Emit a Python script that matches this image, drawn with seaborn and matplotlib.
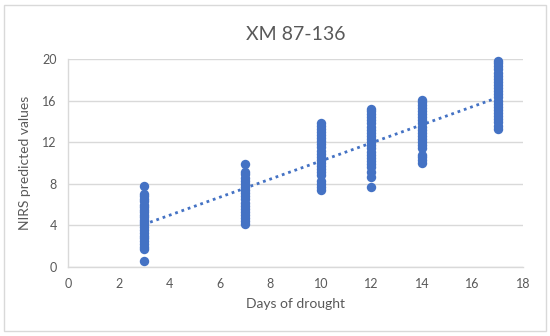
import numpy as np
import pandas as pd
import matplotlib
matplotlib.use('Agg')
import matplotlib.pyplot as plt
import seaborn as sns
from matplotlib.patches import Rectangle

# --- Data ---
day3 = [0.6, 1.7, 1.9, 2.2, 2.5, 2.8, 3.0, 3.3, 3.6, 3.8, 4.1, 4.3, 4.5, 4.8,
        5.0, 5.3, 5.5, 5.8, 6.0, 6.3, 6.5, 6.8, 7.0, 7.8]
day7 = [4.1, 4.4, 4.7, 5.0, 5.3, 5.6, 5.9, 6.2, 6.5, 6.8, 7.1, 7.4, 7.7,
        8.0, 8.3, 8.6, 8.9, 9.1, 9.9]
day10 = [7.4, 7.7, 8.0, 8.3, 8.8, 9.1, 9.4, 9.7, 10.0, 10.3, 10.6, 10.9,
         11.2, 11.5, 11.8, 12.1, 12.4, 12.7, 13.0, 13.3, 13.6, 13.8]
day12 = [7.7, 8.7, 9.1, 9.6, 9.9, 10.2, 10.5, 10.8, 11.1, 11.4, 11.7, 12.0,
         12.3, 12.6, 12.9, 13.2, 13.5, 13.8, 14.1, 14.4, 14.7, 15.0, 15.2]
day14 = [10.0, 10.3, 10.6, 10.8, 11.4, 11.7, 12.0, 12.3, 12.6, 12.9, 13.2,
         13.5, 13.8, 14.1, 14.4, 14.7, 15.0, 15.3, 15.6, 15.9, 16.1]
day17 = [13.3, 13.6, 13.9, 14.2, 14.5, 14.8, 15.1, 15.4, 15.7, 16.0, 16.3,
         16.6, 16.9, 17.2, 17.5, 17.8, 18.1, 18.4, 18.7, 19.0, 19.3, 19.6, 19.8]

groups = {3: day3, 7: day7, 10: day10, 12: day12, 14: day14, 17: day17}
x_ticks = [0, 2, 4, 6, 8, 10, 12, 14, 16, 18]
y_ticks = [0, 4, 8, 12, 16, 20]

df = pd.DataFrame([(d, v) for d, vals in groups.items() for v in vals],
                  columns=['days', 'nirs'])

BLUE = '#4472C4'
GREY_TXT = '#595959'

sns.set_style("white")
plt.rcParams['font.family'] = ['Lato', 'DejaVu Sans']

fig = plt.figure(figsize=(5.5, 3.36), dpi=100)
ax = fig.add_axes([0.1236, 0.2054, 0.8273, 0.619])

sns.scatterplot(data=df, x='days', y='nirs', ax=ax, color=BLUE, s=46,
                edgecolor=BLUE, linewidth=0, zorder=3, clip_on=False)

# linear trendline (Excel style)
slope, intercept = np.polyfit(df['days'], df['nirs'], 1)
xs = np.array([df['days'].min(), df['days'].max()])
ax.plot(xs, slope * xs + intercept, color=BLUE, linewidth=2,
        linestyle=(0, (1, 1.4)), zorder=4)

ax.set_xlim(0, 18)
ax.set_ylim(0, 20)
ax.set_xticks(x_ticks)
ax.set_yticks(y_ticks)
ax.grid(axis='y', color='#D9D9D9', linewidth=1)
ax.set_axisbelow(True)
for side in ['top', 'right']:
    ax.spines[side].set_visible(False)
for side in ['left', 'bottom']:
    ax.spines[side].set_color('#D9D9D9')
    ax.spines[side].set_linewidth(1)
ax.tick_params(axis='both', length=0, labelsize=9, colors=GREY_TXT, pad=8)

ax.set_xlabel('Days of drought', fontsize=10, color=GREY_TXT, labelpad=6)
ax.set_ylabel('NIRS predicted values', fontsize=10, color=GREY_TXT, labelpad=8)
ax.set_title('XM 87-136', fontsize=14, color=GREY_TXT, pad=14)

# chart area border
fig.patches.append(Rectangle((0.008, 0.015), 0.984, 0.97, transform=fig.transFigure,
                             fill=False, edgecolor='#D9D9D9', linewidth=1))

fig.savefig('out.png', dpi=100)
